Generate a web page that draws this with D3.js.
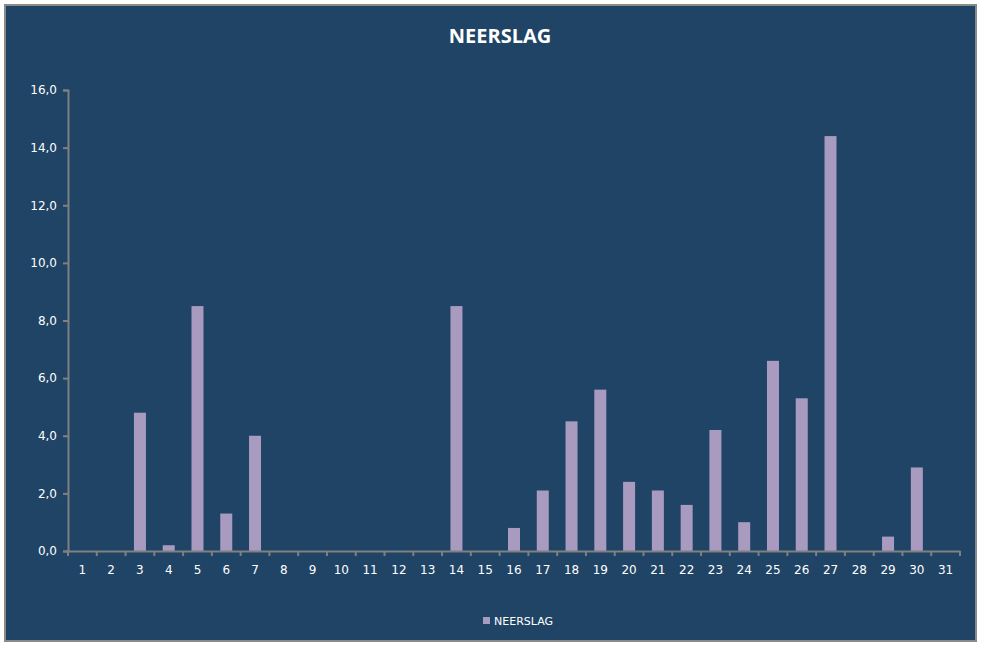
<!DOCTYPE html>
<html><head><meta charset="utf-8">
<script src="https://cdn.jsdelivr.net/npm/d3@7"></script>
<style>body{margin:0;background:#fff}</style>
</head><body><div id="chart"></div>
<script>
const days = d3.range(1, 32).map(String);
const neerslag = [0,0,4.8,0.2,8.5,1.3,4.0,0,0,0,0,0,0,8.5,0,0.8,2.1,4.5,5.6,2.4,2.1,1.6,4.2,1.0,6.6,5.3,14.4,0,0.5,2.9,0];
const yTicks = [0,2,4,6,8,10,12,14,16];

const width = 987, height = 648;
const svg = d3.select("#chart").append("svg").attr("width", width).attr("height", height);

// Background frame
svg.append("rect").attr("x", 5).attr("y", 5).attr("width", 971).attr("height", 636)
  .attr("fill", "#1F4466").attr("stroke", "#8a8a8a").attr("stroke-width", 2);

svg.append("text").attr("x", 500).attr("y", 43).attr("text-anchor", "middle")
  .attr("fill", "#fff").style("font", "bold 20px 'Open Sans', sans-serif").text("NEERSLAG");

const x = d3.scaleBand().domain(days).range([68, 960]);
const y = d3.scaleLinear().domain([0, 16]).range([551, 90]);
const fmt = d => d.toFixed(1).replace(".", ",");

// Bars
svg.selectAll("rect.bar").data(neerslag).enter().append("rect").attr("class", "bar")
  .attr("x", (d, i) => x(days[i]) + x.bandwidth() / 2 - 6)
  .attr("width", 12)
  .attr("y", d => y(d))
  .attr("height", d => y(0) - y(d))
  .attr("fill", "#A99BC0");

// Y axis
const ya = svg.append("g").attr("transform", "translate(68,0)")
  .call(d3.axisLeft(y).tickValues(yTicks).tickFormat(fmt).tickSize(5).tickPadding(6));
ya.select(".domain").attr("stroke", "#808080").attr("stroke-width", 2);
ya.selectAll("line").attr("stroke", "#808080").attr("stroke-width", 2);
ya.selectAll("text").attr("fill", "#fff").style("font", "12px 'DejaVu Sans', sans-serif");

// X axis
const xa = svg.append("g").attr("transform", "translate(0,551)")
  .call(d3.axisBottom(x).tickSize(0).tickPadding(14));
xa.select(".domain").attr("stroke", "#808080").attr("stroke-width", 2);
xa.selectAll("text").attr("fill", "#fff").style("font", "12px 'DejaVu Sans', sans-serif");
// tick marks between categories
xa.selectAll("line.sep").data(days.concat(["end"])).enter().append("line").attr("class", "sep")
  .attr("x1", (d, i) => 68 + i * x.step()).attr("x2", (d, i) => 68 + i * x.step())
  .attr("y1", 0).attr("y2", 5).attr("stroke", "#808080").attr("stroke-width", 2);

// Legend
svg.append("rect").attr("x", 483).attr("y", 617).attr("width", 7).attr("height", 7).attr("fill", "#A99BC0");
svg.append("text").attr("x", 494).attr("y", 625).attr("fill", "#fff")
  .style("font", "11px 'DejaVu Sans', sans-serif").text("NEERSLAG");
</script></body></html>
